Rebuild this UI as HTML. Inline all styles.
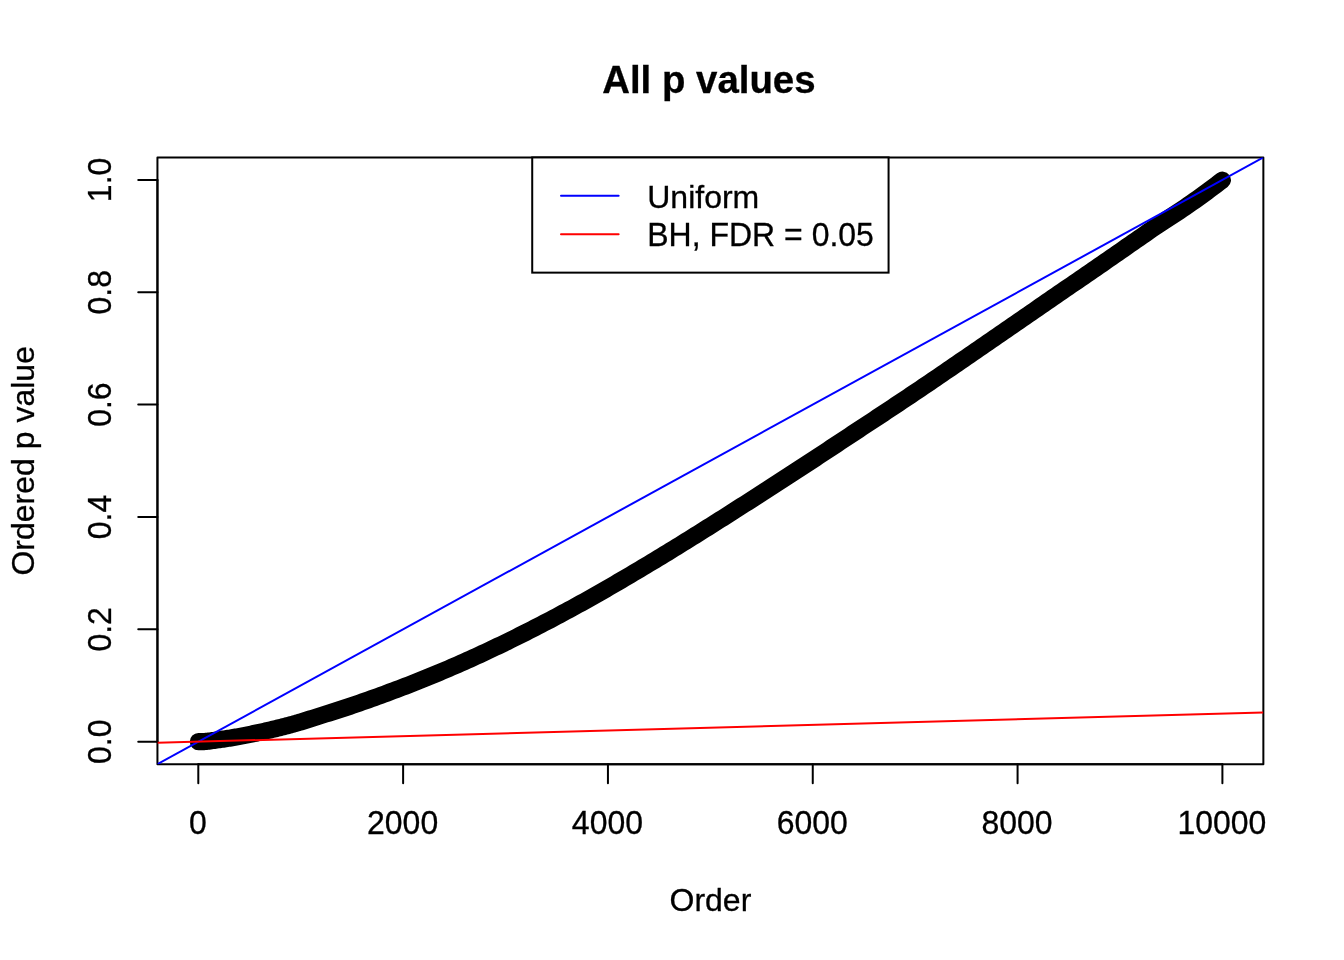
<!DOCTYPE html>
<html><head><meta charset="utf-8"><title>All p values</title>
<style>
html,body{margin:0;padding:0;background:#fff;}
svg{display:block}
text{font-family:"Liberation Sans",sans-serif;fill:#000}
</style></head><body>
<svg width="1344" height="960" viewBox="0 0 1344 960">
<rect width="1344" height="960" fill="#fff"/>
<defs><clipPath id="pc"><rect x="157.44" y="157.44" width="1105.92" height="606.72"/></clipPath></defs>
<g clip-path="url(#pc)">
<path d="M198.40,741.69 L199.70,741.69 L200.99,741.69 L202.29,741.69 L203.58,741.65 L204.88,741.53 L206.17,741.40 L207.47,741.25 L208.76,741.11 L210.06,740.95 L211.35,740.78 L212.65,740.60 L213.94,740.41 L215.24,740.23 L216.53,740.05 L217.83,739.86 L219.12,739.66 L220.42,739.47 L221.71,739.29 L223.01,739.11 L224.30,738.92 L225.60,738.74 L226.89,738.55 L228.19,738.36 L229.48,738.17 L230.78,737.97 L232.07,737.76 L233.37,737.54 L234.66,737.32 L235.96,737.08 L237.25,736.84 L238.55,736.60 L239.84,736.35 L241.14,736.10 L242.43,735.86 L243.73,735.60 L245.02,735.35 L246.32,735.10 L247.61,734.84 L248.91,734.58 L250.20,734.32 L251.50,734.05 L252.79,733.79 L254.09,733.52 L255.38,733.25 L256.68,732.97 L257.97,732.69 L259.27,732.41 L260.56,732.13 L261.86,731.85 L263.15,731.56 L264.45,731.27 L265.74,730.97 L267.04,730.68 L268.33,730.38 L269.63,730.08 L270.92,729.77 L272.22,729.47 L273.51,729.16 L274.81,728.85 L276.10,728.53 L277.40,728.21 L278.69,727.90 L279.99,727.57 L281.28,727.25 L282.58,726.92 L283.87,726.59 L285.17,726.26 L286.46,725.92 L287.76,725.58 L289.05,725.24 L290.35,724.89 L291.64,724.54 L292.94,724.18 L294.23,723.82 L295.53,723.46 L296.82,723.09 L298.12,722.72 L299.41,722.34 L300.71,721.95 L303.79,721.01 L306.87,720.05 L309.96,719.06 L313.04,718.07 L316.12,717.07 L319.20,716.08 L322.29,715.11 L325.37,714.14 L328.45,713.19 L331.53,712.22 L334.62,711.25 L337.70,710.26 L340.78,709.27 L343.86,708.26 L346.95,707.25 L350.03,706.22 L353.11,705.18 L356.19,704.13 L359.28,703.06 L362.36,701.99 L365.44,700.90 L368.52,699.80 L371.61,698.70 L374.69,697.58 L377.77,696.46 L380.85,695.34 L383.94,694.21 L387.02,693.07 L390.10,691.93 L393.19,690.79 L396.27,689.64 L399.35,688.48 L402.43,687.31 L405.52,686.12 L408.60,684.93 L411.68,683.73 L414.76,682.52 L417.85,681.30 L420.93,680.07 L424.01,678.83 L427.09,677.58 L430.18,676.32 L433.26,675.05 L436.34,673.77 L439.42,672.48 L442.51,671.18 L445.59,669.87 L448.67,668.55 L451.75,667.22 L454.84,665.88 L457.92,664.53 L461.00,663.18 L464.08,661.81 L467.17,660.43 L470.25,659.04 L473.33,657.64 L476.42,656.23 L479.50,654.82 L482.58,653.39 L485.66,651.95 L488.75,650.51 L491.83,649.05 L494.91,647.59 L497.99,646.12 L501.08,644.64 L504.16,643.15 L507.24,641.65 L510.32,640.14 L513.41,638.63 L516.49,637.10 L519.57,635.57 L522.65,634.03 L525.74,632.47 L528.82,630.91 L531.90,629.35 L534.98,627.77 L538.07,626.18 L541.15,624.59 L544.23,622.99 L547.31,621.38 L550.40,619.76 L553.48,618.13 L556.56,616.50 L559.64,614.85 L562.73,613.20 L565.81,611.54 L568.89,609.87 L571.98,608.20 L575.06,606.51 L578.14,604.82 L581.22,603.11 L584.31,601.40 L587.39,599.68 L590.47,597.95 L593.55,596.21 L596.64,594.46 L599.72,592.71 L602.80,590.95 L605.88,589.18 L608.97,587.40 L612.05,585.62 L615.13,583.83 L618.21,582.03 L621.30,580.23 L624.38,578.42 L627.46,576.60 L630.54,574.78 L633.63,572.96 L636.71,571.12 L639.79,569.29 L642.87,567.44 L645.96,565.60 L649.04,563.74 L652.12,561.89 L655.20,560.03 L658.29,558.16 L661.37,556.29 L664.45,554.42 L667.54,552.54 L670.62,550.65 L673.70,548.76 L676.78,546.86 L679.87,544.96 L682.95,543.05 L686.03,541.14 L689.11,539.23 L692.20,537.31 L695.28,535.38 L698.36,533.45 L701.44,531.52 L704.53,529.58 L707.61,527.64 L710.69,525.70 L713.77,523.75 L716.86,521.80 L719.94,519.85 L723.02,517.89 L726.10,515.93 L729.19,513.97 L732.27,512.00 L735.35,510.04 L738.43,508.07 L741.52,506.10 L744.60,504.13 L747.68,502.16 L750.76,500.18 L753.85,498.20 L756.93,496.23 L760.01,494.24 L763.10,492.26 L766.18,490.27 L769.26,488.29 L772.34,486.29 L775.43,484.30 L778.51,482.31 L781.59,480.31 L784.67,478.31 L787.76,476.31 L790.84,474.30 L793.92,472.29 L797.00,470.29 L800.09,468.27 L803.17,466.26 L806.25,464.25 L809.33,462.23 L812.42,460.21 L815.50,458.19 L818.58,456.16 L821.66,454.14 L824.75,452.11 L827.83,450.08 L830.91,448.04 L833.99,446.01 L837.08,443.97 L840.16,441.93 L843.24,439.89 L846.32,437.86 L849.41,435.82 L852.49,433.79 L855.57,431.76 L858.66,429.72 L861.74,427.69 L864.82,425.66 L867.90,423.63 L870.99,421.60 L874.07,419.57 L877.15,417.53 L880.23,415.50 L883.32,413.46 L886.40,411.42 L889.48,409.38 L892.56,407.34 L895.65,405.29 L898.73,403.25 L901.81,401.19 L904.89,399.14 L907.98,397.08 L911.06,395.02 L914.14,392.95 L917.22,390.87 L920.31,388.80 L923.39,386.71 L926.47,384.62 L929.55,382.53 L932.64,380.43 L935.72,378.33 L938.80,376.22 L941.88,374.12 L944.97,372.01 L948.05,369.90 L951.13,367.79 L954.22,365.68 L957.30,363.57 L960.38,361.45 L963.46,359.34 L966.55,357.22 L969.63,355.10 L972.71,352.98 L975.79,350.86 L978.88,348.74 L981.96,346.62 L985.04,344.50 L988.12,342.37 L991.21,340.25 L994.29,338.12 L997.37,336.00 L1000.45,333.87 L1003.54,331.74 L1006.62,329.61 L1009.70,327.49 L1012.78,325.36 L1015.87,323.23 L1018.95,321.10 L1022.03,318.97 L1025.11,316.84 L1028.20,314.71 L1031.28,312.58 L1034.36,310.45 L1037.45,308.32 L1040.53,306.19 L1043.61,304.06 L1046.69,301.93 L1049.78,299.80 L1052.86,297.67 L1055.94,295.55 L1059.02,293.43 L1062.11,291.31 L1065.19,289.20 L1068.27,287.09 L1071.35,284.98 L1074.44,282.87 L1077.52,280.77 L1080.60,278.66 L1083.68,276.55 L1086.77,274.43 L1089.85,272.32 L1092.93,270.20 L1096.01,268.07 L1099.10,265.94 L1102.18,263.81 L1105.26,261.67 L1108.34,259.54 L1111.43,257.39 L1114.51,255.25 L1117.59,253.11 L1120.67,250.96 L1123.76,248.82 L1126.84,246.67 L1129.92,244.53 L1133.01,242.38 L1136.09,240.24 L1139.17,238.10 L1142.25,235.96 L1145.34,233.82 L1148.42,231.68 L1151.50,229.55 L1154.58,227.46 L1157.67,225.39 L1160.75,223.34 L1163.83,221.32 L1166.91,219.30 L1170.00,217.29 L1173.08,215.27 L1176.16,213.25 L1179.24,211.21 L1182.33,209.15 L1185.41,207.07 L1188.49,204.95 L1191.57,202.79 L1194.66,200.61 L1197.74,198.41 L1200.82,196.19 L1203.90,193.95 L1206.99,191.70 L1210.07,189.42 L1213.15,187.13 L1216.23,184.82 L1219.32,182.49 L1222.40,180.15" fill="none" stroke="#000" stroke-width="17.2" stroke-linecap="round" stroke-linejoin="round"/>
</g>
<g stroke="#000" stroke-width="2" fill="none" stroke-linecap="round" stroke-linejoin="round">
<path d="M198.30,764.16 H1222.40"/>
<path d="M198.30,764.16 v19.2"/>
<path d="M403.12,764.16 v19.2"/>
<path d="M607.94,764.16 v19.2"/>
<path d="M812.76,764.16 v19.2"/>
<path d="M1017.58,764.16 v19.2"/>
<path d="M1222.40,764.16 v19.2"/>
<path d="M157.44,741.69 V179.91"/>
<path d="M157.44,741.69 h-19.2"/>
<path d="M157.44,629.33 h-19.2"/>
<path d="M157.44,516.98 h-19.2"/>
<path d="M157.44,404.62 h-19.2"/>
<path d="M157.44,292.27 h-19.2"/>
<path d="M157.44,179.91 h-19.2"/>
<rect x="157.44" y="157.44" width="1105.92" height="606.72"/>
</g>
<g font-size="32" text-anchor="middle" stroke="#000" stroke-width="0.3">
<text transform="translate(197.80,834.38) scale(1,1.045)">0</text>
<text transform="translate(402.62,834.38) scale(1,1.045)">2000</text>
<text transform="translate(607.44,834.38) scale(1,1.045)">4000</text>
<text transform="translate(812.26,834.38) scale(1,1.045)">6000</text>
<text transform="translate(1017.08,834.38) scale(1,1.045)">8000</text>
<text transform="translate(1221.90,834.38) scale(1,1.045)">10000</text>
<text transform="translate(111.36,741.69) rotate(-90) scale(1,1.045)">0.0</text>
<text transform="translate(111.36,629.33) rotate(-90) scale(1,1.045)">0.2</text>
<text transform="translate(111.36,516.98) rotate(-90) scale(1,1.045)">0.4</text>
<text transform="translate(111.36,404.62) rotate(-90) scale(1,1.045)">0.6</text>
<text transform="translate(111.36,292.27) rotate(-90) scale(1,1.045)">0.8</text>
<text transform="translate(111.36,179.91) rotate(-90) scale(1,1.045)">1.0</text>
<text transform="translate(710.40,911.18) scale(1,1.0)">Order</text>
<text transform="translate(34.16,460.80) rotate(-90) scale(1,1.0)">Ordered p value</text>
</g>
<text transform="translate(708.90,92.52) scale(1,1.01)" font-size="38.4" font-weight="bold" text-anchor="middle" stroke="#000" stroke-width="0.3">All p values</text>
<g clip-path="url(#pc)" stroke-width="2" fill="none">
<path d="M157.44,764.10 L1263.36,157.44" stroke="#0000ff"/>
<path d="M157.44,742.81 L1263.36,712.48" stroke="#ff0000"/>
</g>
<rect x="532.22" y="157.44" width="356.35" height="115.20" fill="#fff" stroke="#000" stroke-width="2"/>
<path d="M561.02,195.84 h57.6" stroke="#0000ff" stroke-width="2" stroke-linecap="round"/>
<path d="M561.02,234.24 h57.6" stroke="#ff0000" stroke-width="2" stroke-linecap="round"/>
<text transform="translate(647.22,207.84) scale(1,1.0)" font-size="32" stroke="#000" stroke-width="0.3">Uniform</text>
<text transform="translate(647.22,246.24) scale(1,1.045)" font-size="32" stroke="#000" stroke-width="0.3">BH, FDR = 0.05</text>
</svg></body></html>
